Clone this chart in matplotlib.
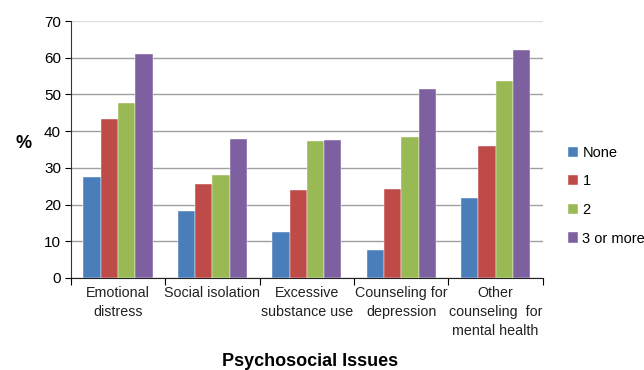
import numpy as np
import matplotlib
matplotlib.use("Agg")
import matplotlib.pyplot as plt

plt.rcParams['font.family'] = ['Liberation Sans', 'DejaVu Sans']

# datos
categorias = ["Emotional\ndistress", "Social isolation", "Excessive\nsubstance use",
              "Counseling for\ndepression", "Other\ncounseling  for\nmental health"]
series = ["None", "1", "2", "3 or more"]
none_vals = [27.5, 18.2, 12.4, 7.6, 21.8]
uno_vals = [43.3, 25.5, 24.0, 24.2, 35.9]
dos_vals = [47.7, 28.1, 37.2, 38.3, 53.6]
tres_vals = [61.1, 37.9, 37.5, 51.6, 62.2]
colores = ["#4A7EBB", "#BE4B48", "#98B954", "#7D60A0"]

valores = [none_vals, uno_vals, dos_vals, tres_vals]

fig = plt.figure(figsize=(6.44, 3.70), dpi=100)
ax = fig.add_axes([0.110, 0.249, 0.733, 0.694])

x = np.arange(len(categorias))
w = 0.183
for i, (nombre, vals) in enumerate(zip(series, valores)):
    ax.bar(x + (i - 1.5) * w, vals, w, color=colores[i], label=nombre,
           edgecolor="white", linewidth=0.3, zorder=3)

ax.set_xlim(-0.5, len(categorias) - 0.5)
ax.set_ylim(0, 70)
ax.set_yticks(range(0, 71, 10))
ax.yaxis.grid(True, color="#a0a0a0", linewidth=1.0, zorder=0)
ax.get_ygridlines()[-1].set_color("#dddddd")
ax.spines['top'].set_visible(False)
ax.spines['right'].set_visible(False)
ax.spines['left'].set_color("#333333")
ax.spines['bottom'].set_color("#222222")

# ticks de x en los bordes de categoria
ax.set_xticks(np.arange(-0.5, len(categorias)), minor=False)
ax.set_xticklabels([])
ax.set_xticks(x, minor=True)
ax.set_xticklabels(categorias, minor=True, fontsize=10.3, color="#222222", linespacing=1.45)
ax.tick_params(axis='x', which='minor', length=0, pad=6)
ax.tick_params(axis='x', which='major', length=5, direction='out')
ax.tick_params(axis='y', length=4, labelsize=11, pad=3)

ax.set_ylabel("%", fontsize=13, fontweight="bold", rotation=0)
ax.yaxis.set_label_coords(-0.10, 0.49)
fig.text(0.482, 0.012, "Psychosocial Issues", ha="center", fontsize=13, fontweight="bold")

ax.legend(loc="center left", bbox_to_anchor=(1.025, 0.32), frameon=False,
          fontsize=10.5, handlelength=0.7, handleheight=0.7, handletextpad=0.3,
          labelspacing=1.0)

fig.savefig("out.png", dpi=100)
